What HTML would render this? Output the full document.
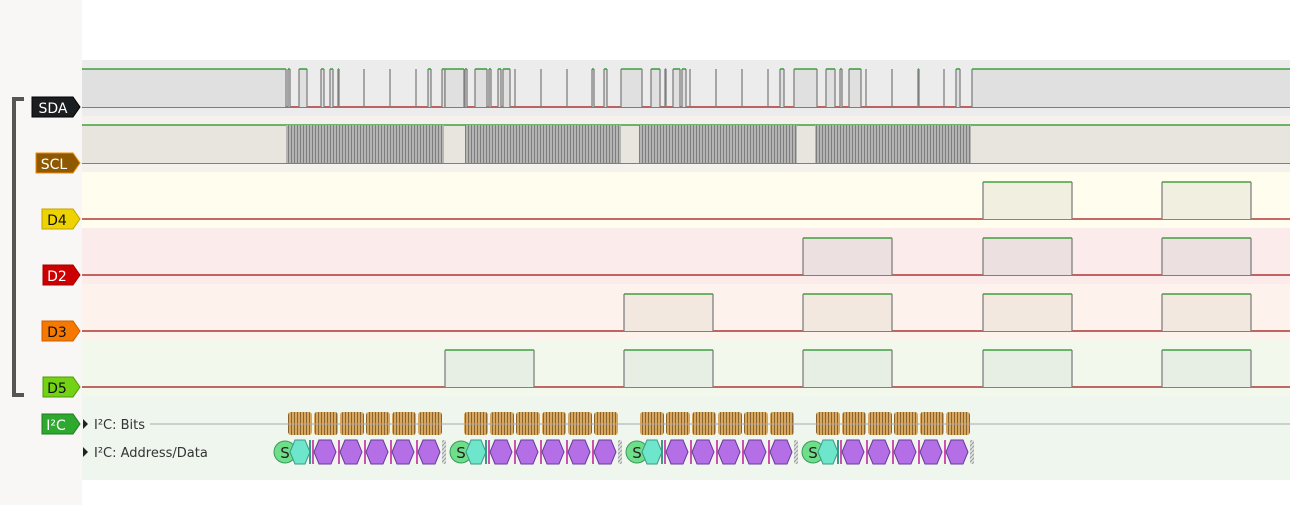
<!DOCTYPE html>
<html><head><meta charset="utf-8"><style>
html,body{margin:0;padding:0;width:1290px;height:505px;overflow:hidden;background:#fff;font-family:"Liberation Sans","DejaVu Sans",sans-serif}
svg{display:block}
</style></head><body>
<svg id="s" width="1290" height="505" xmlns="http://www.w3.org/2000/svg" font-family="'DejaVu Sans','Liberation Sans',sans-serif">
<defs>
<pattern id="scl" width="3" height="10" patternUnits="userSpaceOnUse"><rect width="3" height="10" fill="#b4b4b4"/><rect width="1" height="10" fill="#7e7e7e"/></pattern>
<pattern id="bit" width="3" height="10" patternUnits="userSpaceOnUse"><rect width="3" height="10" fill="#d8a860"/><rect width="1" height="10" fill="#8a6430"/></pattern>
<pattern id="hatch" width="4" height="4" patternUnits="userSpaceOnUse"><rect width="4" height="4" fill="#ddd"/><path d="M0 4L4 0" stroke="#999" stroke-width="1"/></pattern>
</defs>
<rect x="0" y="0" width="82" height="505" fill="#f8f7f5"/>
<rect x="82" y="60" width="1208" height="56" fill="#ececec"/>
<rect x="82" y="116" width="1208" height="56" fill="#f5f1ec"/>
<rect x="82" y="172" width="1208" height="56" fill="#fffeee"/>
<rect x="82" y="228" width="1208" height="56" fill="#fbebeb"/>
<rect x="82" y="284" width="1208" height="56" fill="#fdf3ec"/>
<rect x="82" y="340" width="1208" height="56" fill="#f3f8ec"/>
<rect x="82" y="396" width="1208" height="84" fill="#eef6ee"/>
<g id="g"></g>
<path d="M24 99 H14 V395 H24" fill="none" stroke="#555" stroke-width="4"/>
<path d="M32 97H73L80 107L73 117H32Z" fill="#1b1e20" stroke="#000"/>
<text x="53" y="113" font-size="14" fill="#fff" text-anchor="middle">SDA</text>
<path d="M36 153H73L80 163L73 173H36Z" fill="#8f5902" stroke="#f08a00"/>
<text x="54" y="169" font-size="14" fill="#fff" text-anchor="middle">SCL</text>
<path d="M42 209H73L80 219L73 229H42Z" fill="#edd400" stroke="#c4a000"/>
<text x="57" y="225" font-size="14" fill="#111" text-anchor="middle">D4</text>
<path d="M43 265H73L80 275L73 285H43Z" fill="#cc0000" stroke="#a40000"/>
<text x="57" y="281" font-size="14" fill="#fff" text-anchor="middle">D2</text>
<path d="M42 321H73L80 331L73 341H42Z" fill="#f57900" stroke="#ce5c00"/>
<text x="57" y="337" font-size="14" fill="#111" text-anchor="middle">D3</text>
<path d="M43 377H73L80 387L73 397H43Z" fill="#73d216" stroke="#4e9a06"/>
<text x="57" y="393" font-size="14" fill="#111" text-anchor="middle">D5</text>
<path d="M42 414H73L80 424L73 434H42Z" fill="#2fa82f" stroke="#1f7a1f"/>
<text x="56" y="430" font-size="14" fill="#fff" text-anchor="middle">I²C</text>
<line x1="150" y1="424" x2="1290" y2="424" stroke="#aaa" stroke-width="1"/>
<path d="M83 419L88 424L83 429Z" fill="#222"/>
<path d="M83 447L88 452L83 457Z" fill="#222"/>
<text x="94" y="429" font-size="13" fill="#333">I²C: Bits</text>
<text x="94" y="457" font-size="13" fill="#333">I²C: Address/Data</text>
</svg>
<script>
var g=document.getElementById('g'),h='';
function R(x,y,w,hh,f,extra){h+='<rect x="'+x+'" y="'+y+'" width="'+w+'" height="'+hh+'" fill="'+f+'" '+(extra||'')+'/>';}
function L(x1,y1,x2,y2,c,w){h+='<line x1="'+x1+'" y1="'+y1+'" x2="'+x2+'" y2="'+y2+'" stroke="'+c+'" stroke-width="'+(w||1)+'"/>';}
function sig(top,bot,highs,fill,spikes){
  L(82,bot,1290,bot,'#a01010',1.3);
  highs.forEach(function(p){R(p[0],top,p[1]-p[0],bot-top,fill);L(p[0],top,p[1],top,'#1e901e',1.3);
    if(p[0]>82)L(p[0],top,p[0],bot,'#808080',1.3); if(p[1]<1290)L(p[1],top,p[1],bot,'#808080',1.3);});
  (spikes||[]).forEach(function(x){L(x,top,x,bot,'#808080',1.3);});
}
sig(69,107,[[82,286],[288,290],[299,307],[321,324],[330,333],[338,339],[428,431],[442,445],[445,464],[465,467],[475,487],[489,491],[498,501],[503,510],[592,594],[604,607],[621,642],[651,660],[665,666],[673,680],[682,686],[780,784],[794,817],[826,835],[840,842],[849,861],[918,919],[956,960],[972,1290]],'#e0e0e0',[364,390,416,515,541,567,690,716,742,768,866,892,944]);
L(82,163,1290,163,'#a01010',1.3);
R(82,125,1208,38,'#e8e5df');L(82,125,1290,125,'#1e901e',1.3);
[[286,444],[465,621],[639,797],[815,971]].forEach(function(p){R(p[0],125,p[1]-p[0],38,'url(#scl)');});
function drow(top,bot,starts,fill){sig(top,bot,starts.map(function(s){return [s,s+89];}),fill);}
drow(182,219,[983,1162],'#f1efe0');
drow(238,275,[803,983,1162],'#ede0e0');
drow(294,331,[624,803,983,1162],'#f2e8df');
drow(350,387,[445,624,803,983,1162],'#e7eee4');
[288,464,640,816].forEach(function(b){
  for(var i=0;i<6;i++){var x=b+i*26;R(x,412,24,23,'url(#bit)','rx="3"');}
  var y1=440,y2=464,ym=452;
  h+='<circle cx="'+(b-3)+'" cy="'+ym+'" r="11" fill="#6ede8a" stroke="#3a9a5a"/>';
  h+='<polygon points="'+(b+2)+','+ym+' '+(b+7)+','+y1+' '+(b+17)+','+y1+' '+(b+22)+','+ym+' '+(b+17)+','+y2+' '+(b+7)+','+y2+'" fill="#6ee6cc" stroke="#3a9a88"/>';
  h+='<text x="'+(b-3)+'" y="'+(ym+6)+'" font-size="15" fill="#222" text-anchor="middle">S</text>';
  R(b+21,y1,2,24,'#3a9a88');
  for(var j=0;j<5;j++){var x=b+26+j*26;
    R(x-2,y1,2,24,'#d050b0');
    h+='<polygon points="'+(x+0)+','+ym+' '+(x+5)+','+y1+' '+(x+17)+','+y1+' '+(x+22)+','+ym+' '+(x+17)+','+y2+' '+(x+5)+','+y2+'" fill="#b46ee6" stroke="#6a3a9a"/>';
  }
  h+='<rect x="'+(b+154)+'" y="'+y1+'" width="4" height="24" rx="2" fill="url(#hatch)"/>';
});
g.innerHTML=h;
</script>
</body></html>
